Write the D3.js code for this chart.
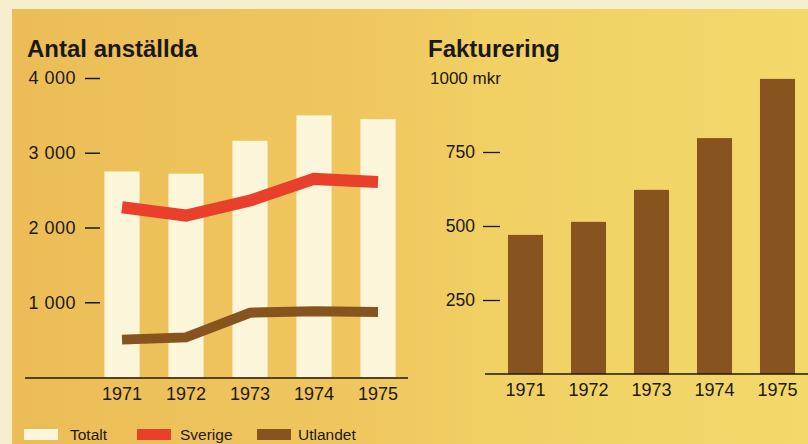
<!DOCTYPE html>
<html>
<head>
<meta charset="utf-8">
<script src="https://cdn.jsdelivr.net/npm/d3@7"></script>
<style>
  html, body { margin: 0; padding: 0; background: #F5EECF; }
  svg { display: block; }
  text { font-family: "Liberation Sans", Arial, Helvetica, sans-serif; fill: #1c1812; }
</style>
</head>
<body>
<svg id="chart" width="808" height="444"></svg>
<script>
// ---- data ----
const years = ["1971", "1972", "1973", "1974", "1975"];
const totalt = [2750, 2720, 3160, 3500, 3450];
const sverige = [2270, 2160, 2360, 2650, 2610];
const utlandet = [500, 530, 860, 880, 870];
const fakturering = [470, 514, 622, 797, 997];
const leftTicks = [1000, 2000, 3000, 4000];
const leftTickLabels = ["1 000", "2 000", "3 000", "4 000"];
const rightTicks = [250, 500, 750];
const legendLabels = ["Totalt", "Sverige", "Utlandet"];

const colors = { totalt: "#FBF5DA", sverige: "#E8402A", utlandet: "#87531F", ink: "#1c1812" };

const svg = d3.select("#chart");

// background
const defs = svg.append("defs");
const grad = defs.append("linearGradient").attr("id", "bg").attr("x1", "0").attr("x2", "1").attr("y1", "0").attr("y2", "0");
grad.append("stop").attr("offset", "0%").attr("stop-color", "#ECBD57");
grad.append("stop").attr("offset", "45%").attr("stop-color", "#EFC75E");
grad.append("stop").attr("offset", "60%").attr("stop-color", "#F1D064");
grad.append("stop").attr("offset", "100%").attr("stop-color", "#F3D86A");
svg.append("rect").attr("x", 0).attr("y", 0).attr("width", 808).attr("height", 444).attr("fill", "#F5EECF");
svg.append("rect").attr("x", 12).attr("y", 9).attr("width", 796).attr("height", 435).attr("fill", "url(#bg)");

// ================= LEFT: Antal anställda =================
const xL = d3.scaleBand().domain(years).range([90, 410]).paddingInner(0.45).paddingOuter(0.225);
const yL = d3.scaleLinear().domain([0, 4000]).range([377, 78]);

svg.append("text").attr("x", 27).attr("y", 57)
  .attr("font-size", 24).attr("font-weight", "bold")
  .text("Antal anställda");

// bars
svg.append("g").selectAll("rect").data(years).join("rect")
  .attr("x", d => xL(d))
  .attr("y", (d, i) => yL(totalt[i]))
  .attr("width", xL.bandwidth())
  .attr("height", (d, i) => yL(0) - yL(totalt[i]))
  .attr("fill", colors.totalt);

// lines
const lineL = d3.line().x(d => xL(d.year) + xL.bandwidth() / 2).y(d => yL(d.v));
svg.append("path")
  .datum(years.map((y, i) => ({ year: y, v: utlandet[i] })))
  .attr("d", lineL).attr("fill", "none").attr("stroke", colors.utlandet).attr("stroke-width", 10);
svg.append("path")
  .datum(years.map((y, i) => ({ year: y, v: sverige[i] })))
  .attr("d", lineL).attr("fill", "none").attr("stroke", colors.sverige).attr("stroke-width", 12);

// y axis
const axL = svg.append("g").attr("transform", "translate(100,0)")
  .call(d3.axisLeft(yL).tickValues(leftTicks).tickSize(15).tickPadding(9)
    .tickFormat((d, i) => leftTickLabels[i]));
axL.select(".domain").remove();
axL.selectAll(".tick line").attr("stroke", colors.ink).attr("stroke-width", 1.5);
axL.selectAll(".tick text").attr("font-size", 18).attr("fill", colors.ink)
  .attr("font-family", "'Liberation Sans', Arial, sans-serif").attr("letter-spacing", "0.5");

// x axis
svg.append("line").attr("x1", 25).attr("x2", 408).attr("y1", 378).attr("y2", 378)
  .attr("stroke", colors.ink).attr("stroke-width", 1.5);
const axLx = svg.append("g").attr("transform", "translate(0,378)")
  .call(d3.axisBottom(xL).tickSize(0).tickPadding(0));
axLx.select(".domain").remove();
axLx.selectAll(".tick text").attr("font-size", 18).attr("fill", colors.ink)
  .attr("font-family", "'Liberation Sans', Arial, sans-serif").attr("dy", null).attr("y", 22);

// legend
const legendColors = [colors.totalt, colors.sverige, colors.utlandet];
const swatchX = [24, 137, 257];
const textX = [70, 180, 298];
const lg = svg.append("g");
legendLabels.forEach((lab, i) => {
  lg.append("rect").attr("x", swatchX[i]).attr("y", 429).attr("width", 34).attr("height", 11).attr("fill", legendColors[i]);
  lg.append("text").attr("x", textX[i]).attr("y", 440).attr("font-size", 15.5).text(lab);
});

// ================= RIGHT: Fakturering =================
const xR = d3.scaleBand().domain(years).range([494, 809]).paddingInner(0.444).paddingOuter(0.222);
const yR = d3.scaleLinear().domain([0, 1000]).range([374, 78]);

svg.append("text").attr("x", 428).attr("y", 57)
  .attr("font-size", 24).attr("font-weight", "bold")
  .text("Fakturering");

svg.append("g").selectAll("rect").data(years).join("rect")
  .attr("x", d => xR(d))
  .attr("y", (d, i) => yR(fakturering[i]))
  .attr("width", xR.bandwidth())
  .attr("height", (d, i) => yR(0) - yR(fakturering[i]))
  .attr("fill", colors.utlandet);

const axR = svg.append("g").attr("transform", "translate(500,0)")
  .call(d3.axisLeft(yR).tickValues(rightTicks).tickSize(17).tickPadding(8));
axR.select(".domain").remove();
axR.selectAll(".tick line").attr("stroke", colors.ink).attr("stroke-width", 1.3);
axR.selectAll(".tick text").attr("font-size", 17.5).attr("fill", colors.ink)
  .attr("font-family", "'Liberation Sans', Arial, sans-serif");

svg.append("text").attr("x", 430).attr("y", yR(1000)).attr("dy", "0.35em")
  .attr("font-size", 17).text("1000 mkr");

svg.append("line").attr("x1", 485).attr("x2", 808).attr("y1", 374).attr("y2", 374)
  .attr("stroke", colors.ink).attr("stroke-width", 1.5);
const axRx = svg.append("g").attr("transform", "translate(0,374)")
  .call(d3.axisBottom(xR).tickSize(0).tickPadding(0));
axRx.select(".domain").remove();
axRx.selectAll(".tick text").attr("font-size", 18).attr("fill", colors.ink)
  .attr("font-family", "'Liberation Sans', Arial, sans-serif").attr("dy", null).attr("y", 22);
</script>
</body>
</html>
